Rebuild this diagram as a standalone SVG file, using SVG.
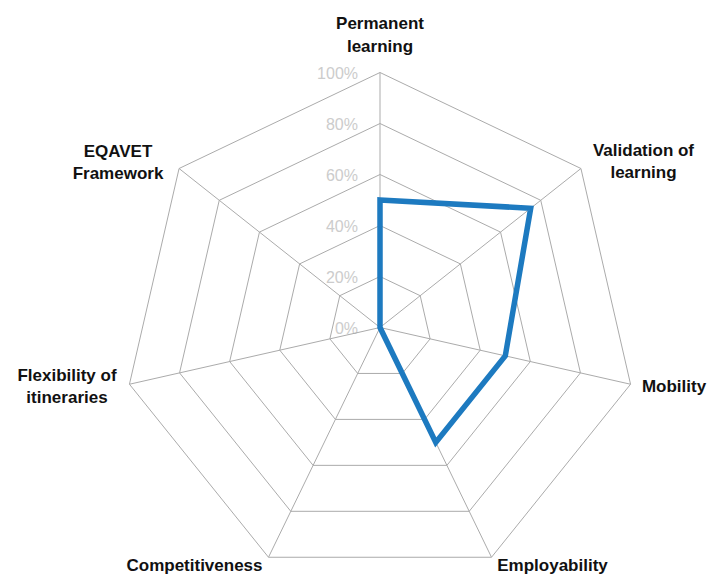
<svg xmlns="http://www.w3.org/2000/svg" width="711" height="575" viewBox="0 0 711 575">
<style>
.tick{font-family:"Liberation Sans",Arial,sans-serif;font-size:16px;fill:#cccccc;text-anchor:end}
.cat{font-family:"Liberation Sans",Arial,sans-serif;font-size:17px;font-weight:bold;fill:#111;text-anchor:middle}
.grid{fill:none;stroke:#ababab;stroke-width:1}
.series{fill:none;stroke:#1d7ac0;stroke-width:5.5;stroke-linejoin:miter}
</style>
<rect width="711" height="575" fill="#ffffff"/>
<g id="ticks">
<text class="tick" x="358" y="78.5">100%</text>
<text class="tick" x="358" y="129.5">80%</text>
<text class="tick" x="358" y="180.5">60%</text>
<text class="tick" x="358" y="231.5">40%</text>
<text class="tick" x="358" y="282.5">20%</text>
<text class="tick" x="358" y="333.5">0%</text>
</g>
<g id="grid">
<polygon class="grid" points="380,72.5 580.93,168.51 630.56,384.24 491.51,557.25 268.49,557.25 129.44,384.24 179.07,168.51"/>
<polygon class="grid" points="380,123.5 540.74,200.31 580.45,372.89 469.21,511.3 290.79,511.3 179.55,372.89 219.26,200.31"/>
<polygon class="grid" points="380,174.5 500.56,232.11 530.34,361.54 446.91,465.35 313.09,465.35 229.66,361.54 259.44,232.11"/>
<polygon class="grid" points="380,225.5 460.37,263.9 480.22,350.2 424.6,419.4 335.4,419.4 279.78,350.2 299.63,263.9"/>
<polygon class="grid" points="380,276.5 420.19,295.7 430.11,338.85 402.3,373.45 357.7,373.45 329.89,338.85 339.81,295.7"/>
<path class="grid" d="M380,327.5L380,72.5M380,327.5L580.93,168.51M380,327.5L630.56,384.24M380,327.5L491.51,557.25M380,327.5L268.49,557.25M380,327.5L129.44,384.24M380,327.5L179.07,168.51"/>
</g>
<g id="series">
<polygon class="series" points="380,200 530.7,208.26 505.28,355.87 435.76,442.38 380,327.5"/>
</g>
<g id="label-permanent"><text class="cat" x="380" y="29">Permanent</text><text class="cat" x="380" y="52">learning</text></g>
<g id="label-validation"><text class="cat" x="643.5" y="156">Validation of</text><text class="cat" x="643.5" y="178">learning</text></g>
<g id="label-mobility"><text class="cat" x="674" y="392">Mobility</text></g>
<g id="label-employability"><text class="cat" x="552.5" y="570.5">Employability</text></g>
<g id="label-competitiveness"><text class="cat" x="194.5" y="570.5">Competitiveness</text></g>
<g id="label-flexibility"><text class="cat" x="67" y="381">Flexibility of</text><text class="cat" x="67" y="403">itineraries</text></g>
<g id="label-eqavet"><text class="cat" x="118" y="157">EQAVET</text><text class="cat" x="118" y="179">Framework</text></g>
</svg>
